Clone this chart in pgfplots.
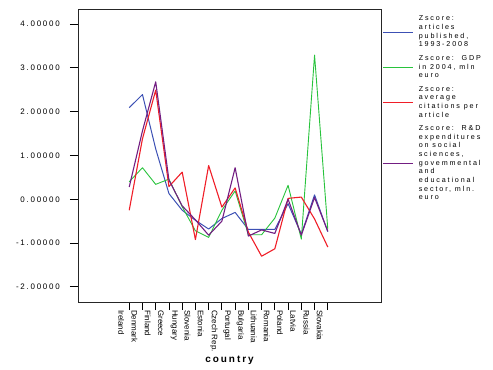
\documentclass[border=0pt]{standalone}
\usepackage{fontspec}
\setmainfont{Liberation Sans}
\newfontfamily\tickfont[LetterSpace=22]{Liberation Sans}
\newfontfamily\legfont[LetterSpace=26]{Liberation Sans}
\newfontfamily\labfont[LetterSpace=20]{Liberation Sans}
\usepackage{pgfplots}
\pgfplotsset{compat=1.18}
\definecolor{cblue}{RGB}{60,80,180}
\definecolor{cgreen}{RGB}{40,195,60}
\definecolor{cred}{RGB}{240,30,40}
\definecolor{cpurple}{RGB}{115,30,130}
\begin{document}
\begin{tikzpicture}
\useasboundingbox (0,0) rectangle (493bp,370bp);
\begin{axis}[
  at={(78bp,68bp)}, anchor=south west,
  width=303bp, height=292bp, scale only axis,
  xmin=-3.87, xmax=19.02, ymin=-2.345, ymax=4.32,
  axis line style={line width=1bp, black!85},
  xtick={0,...,15},
  xticklabels={Ireland,Denmark,Finland,Greece,Hungary,Slovenia,Estonia,Czech Rep.,Portugal,Bulgaria,Lithuania,Romania,Poland,Latvia,Russia,Slovakia},
  ytick={-2,-1,0,1,2,3,4},
  yticklabels={-2.00000,-1.00000,0.00000,1.00000,2.00000,3.00000,4.00000},
  tick align=outside, major tick length=8bp,
  tick style={black, line width=0.8bp},
  xtick pos=bottom, ytick pos=left,
  yticklabel style={font=\fontsize{8}{9}\tickfont, anchor=east, inner sep=0pt, xshift=-10bp},
  xticklabel style={font=\fontsize{8}{9}\selectfont, rotate=-90, anchor=west, inner sep=0pt, yshift=-8bp},
  xlabel={country},
  xlabel style={font=\fontsize{10}{11}\labfont\bfseries, at={(axis description cs:0.5,-0.2)}, anchor=center},
  legend style={at={(1,1)}, anchor=north west, xshift=2bp, yshift=-6bp, draw=none, fill=none,
    inner sep=0pt, outer sep=0pt,
    font=\fontsize{7.2}{8.7}\legfont,
    nodes={inner sep=0pt}, cells={align=left}, column sep=5bp, row sep=7bp},
  legend cell align=left,
  legend image code/.code={\draw[#1, line width=0.8bp] (0bp,0bp) -- (30bp,0bp);},
  every axis plot/.append style={line join=round},
]
\addplot[cblue, line width=1bp] coordinates {
(0,2.09)(1,2.39)(2,1.15)(3,0.13)(4,-0.25)(5,-0.48)(6,-0.68)(7,-0.44)(8,-0.30)(9,-0.69)(10,-0.69)(11,-0.69)(12,-0.10)(13,-0.80)(14,0.10)(15,-0.74)};
\addlegendentry{Zscore:\\articles\\published,\\1993-2008}
\addplot[cgreen, line width=0.9bp] coordinates {
(0,0.40)(1,0.72)(2,0.34)(3,0.46)(4,-0.17)(5,-0.72)(6,-0.87)(7,-0.25)(8,0.19)(9,-0.81)(10,-0.81)(11,-0.43)(12,0.32)(13,-0.91)(14,3.29)(15,-0.68)};
\addlegendentry{Zscore:\ \ GDP\\in 2004, mln\\euro}
\addplot[cred, line width=1.1bp] coordinates {
(0,-0.25)(1,1.38)(2,2.49)(3,0.29)(4,0.62)(5,-0.92)(6,0.77)(7,-0.18)(8,0.26)(9,-0.75)(10,-1.30)(11,-1.13)(12,0.02)(13,0.05)(14,-0.45)(15,-1.09)};
\addlegendentry{Zscore:\\average\\citations per\\article}
\addplot[cpurple, line width=1.1bp] coordinates {
(0,0.28)(1,1.56)(2,2.68)(3,0.44)(4,-0.15)(5,-0.47)(6,-0.82)(7,-0.50)(8,0.72)(9,-0.84)(10,-0.70)(11,-0.78)(12,0.00)(13,-0.82)(14,0.04)(15,-0.73)};
\addlegendentry{Zscore:\ \ R\&D\\expenditures\\on social\\sciences,\\govemmental\\and\\educational\\sector, mln.\\euro}
\node[rotate=90, font=\fontsize{10}{11}\selectfont\bfseries] at (axis description cs:-0.218,0.49) {Value};
\end{axis}
\end{tikzpicture}
\end{document}
